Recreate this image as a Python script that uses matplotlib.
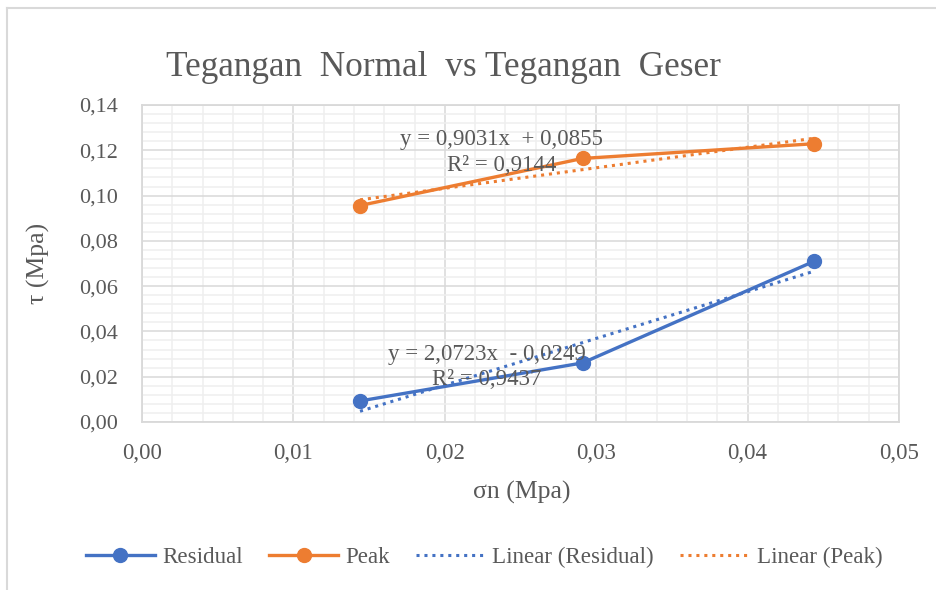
import numpy as np
import matplotlib
matplotlib.use("Agg")
import matplotlib.pyplot as plt
from matplotlib.lines import Line2D
from matplotlib.ticker import MultipleLocator, FuncFormatter

# data
sigma_n = [0.0144, 0.0291, 0.0444]
tau_residual = [0.0093, 0.0261, 0.0710]
tau_peak = [0.0956, 0.1164, 0.1229]

series_names = ["Residual", "Peak", "Linear (Residual)", "Linear (Peak)"]
eq_residual = "y = 2,0723x  - 0,0249\nR² = 0,9437"
eq_peak = "y = 0,9031x  + 0,0855\nR² = 0,9144"

blue = "#4472C4"
orange = "#ED7D31"
txt = "#595959"

plt.rcParams['font.family'] = ['Liberation Serif', 'DejaVu Serif']

fig = plt.figure(figsize=(9.37, 5.90), dpi=100)
ax = fig.add_axes([142/937, 1-422/590, (899-142)/937, (422-105)/590])

ax.set_xlim(0, 0.05)
ax.set_ylim(0, 0.14)
ax.xaxis.set_major_locator(MultipleLocator(0.01))
ax.xaxis.set_minor_locator(MultipleLocator(0.002))
ax.yaxis.set_major_locator(MultipleLocator(0.02))
ax.yaxis.set_minor_locator(MultipleLocator(0.004))
fmt = FuncFormatter(lambda v, p: f"{v:.2f}".replace(".", ","))
ax.xaxis.set_major_formatter(fmt)
ax.yaxis.set_major_formatter(fmt)
ax.grid(which="minor", color="#efefef", linewidth=1.1)
ax.grid(which="major", color="#d9d9d9", linewidth=1.1)
ax.set_axisbelow(True)
ax.tick_params(which="both", length=0)
ax.tick_params(axis="y", pad=17, labelsize=16, labelcolor=txt)
ax.tick_params(axis="x", pad=15, labelsize=16.5, labelcolor=txt)
for s in ax.spines.values():
    s.set_color("#d9d9d9")
    s.set_linewidth(1.3)

# data lines
ax.plot(sigma_n, tau_residual, color=blue, lw=2.4, marker="o", ms=10, zorder=3)
ax.plot(sigma_n, tau_peak, color=orange, lw=2.4, marker="o", ms=10, zorder=3)

# linear trendlines over data range
xs = np.array(sigma_n)
for ys, c in [(tau_residual, blue), (tau_peak, orange)]:
    k, b = np.polyfit(xs, ys, 1)
    ax.plot([xs[0], xs[-1]], [k*xs[0]+b, k*xs[-1]+b], color=c, lw=2.2,
            linestyle=(0, (1, 1.6)), zorder=4)

ax.text(0.02375, 0.1190, eq_peak, ha="center", va="center", fontsize=16.5,
        color=txt, linespacing=1.3, zorder=5)
ax.text(0.02279, 0.0243, eq_residual, ha="center", va="center", fontsize=16.5,
        color=txt, linespacing=1.3, zorder=5)

fig.text(443/937, 1-68/590, "Tegangan  Normal  vs Tegangan  Geser", ha="center",
         va="center", fontsize=25.4, color=txt)
fig.text(522/937, 1-492/590, "σn (Mpa)", ha="center", va="center", fontsize=18.5, color=txt)
fig.text(38/937, 1-263/590, "τ (Mpa)", ha="center", va="center", fontsize=18.5,
         color=txt, rotation=90)

handles = [
    Line2D([], [], color=blue, lw=2.4, marker="o", ms=10),
    Line2D([], [], color=orange, lw=2.4, marker="o", ms=10),
    Line2D([], [], color=blue, lw=2.2, linestyle=(0, (1, 1.6))),
    Line2D([], [], color=orange, lw=2.2, linestyle=(0, (1, 1.6))),
]
leg = fig.legend(handles, series_names, loc="center", bbox_to_anchor=(484/937, 1-557/590),
                 ncol=4, frameon=False, fontsize=16.6, handlelength=3.0, columnspacing=1.15,
                 handletextpad=0.3)
for t in leg.get_texts():
    t.set_color(txt)

# chart area border (top and left visible)
fig.add_artist(Line2D([7/937, 1], [1-8/590, 1-8/590], color="#d9d9d9", lw=1.5))
fig.add_artist(Line2D([7/937, 7/937], [0, 1-8/590], color="#d9d9d9", lw=1.5))

fig.savefig("out.png", dpi=100)
